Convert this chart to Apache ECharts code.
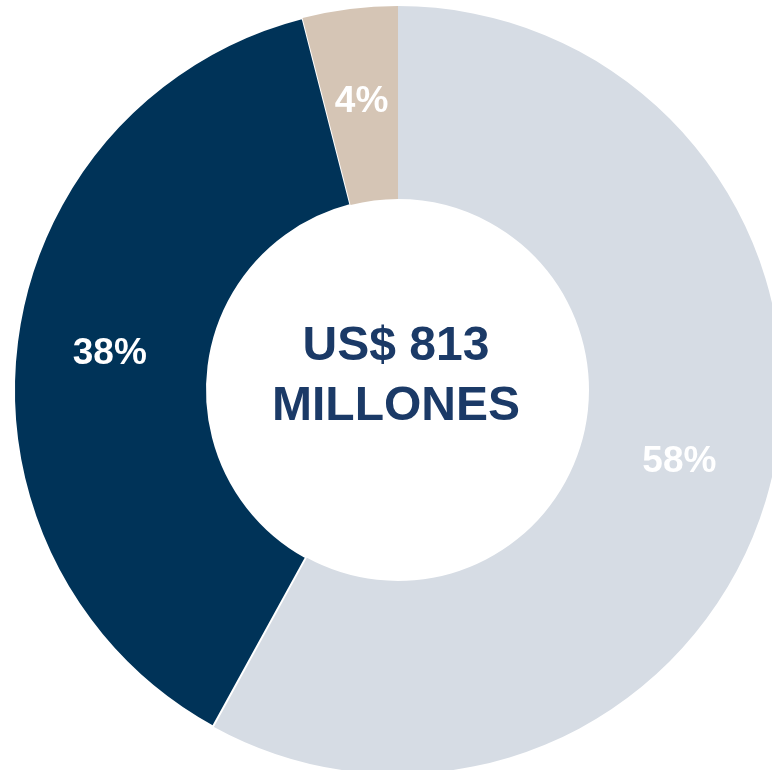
<!DOCTYPE html>
<html>
<head>
<meta charset="utf-8">
<script src="https://cdn.jsdelivr.net/npm/echarts@6/dist/echarts.min.js"></script>
<style>
html,body{margin:0;padding:0;background:#ffffff;}
#chart{width:772px;height:770px;}
</style>
</head>
<body>
<div id="chart"></div>
<script>
var categories = ['Gris', 'Azul', 'Beige'];
var values = [58, 38, 4];
var colors = ['#D6DCE4', '#003358', '#D5C5B5'];
var centerLines = ['US$ 813', 'MILLONES'];

var chart = echarts.init(document.getElementById('chart'), null, {renderer: 'canvas'});
var data = categories.map(function (c, i) {
  var item = {name: c, value: values[i], itemStyle: {color: colors[i]}};
  if (i === 1) { item.itemStyle.borderColor = '#ffffff'; item.itemStyle.borderWidth = 2; }
  return item;
});
chart.setOption({
  animation: false,
  series: [{
    type: 'pie',
    center: [398, 390],
    radius: [191, 384],
    startAngle: 90,
    clockwise: true,
    data: data,
    label: {
      show: true,
      position: 'inside',
      formatter: function (p) { return p.value + '%'; },
      color: '#ffffff',
      fontFamily: 'Liberation Sans, Arial, sans-serif',
      fontWeight: 'bold',
      fontSize: 37
    },
    labelLine: {show: false},
    emphasis: {disabled: true}
  }],
  graphic: [{
    type: 'text',
    x: 396,
    y: 377,
    style: {
      text: centerLines.join('\n'),
      fill: '#1B3A67',
      fontFamily: 'Liberation Sans, Arial, sans-serif',
      fontWeight: 'bold',
      fontSize: 48,
      lineHeight: 60,
      align: 'center',
      verticalAlign: 'middle'
    }
  }]
});
</script>
</body>
</html>
